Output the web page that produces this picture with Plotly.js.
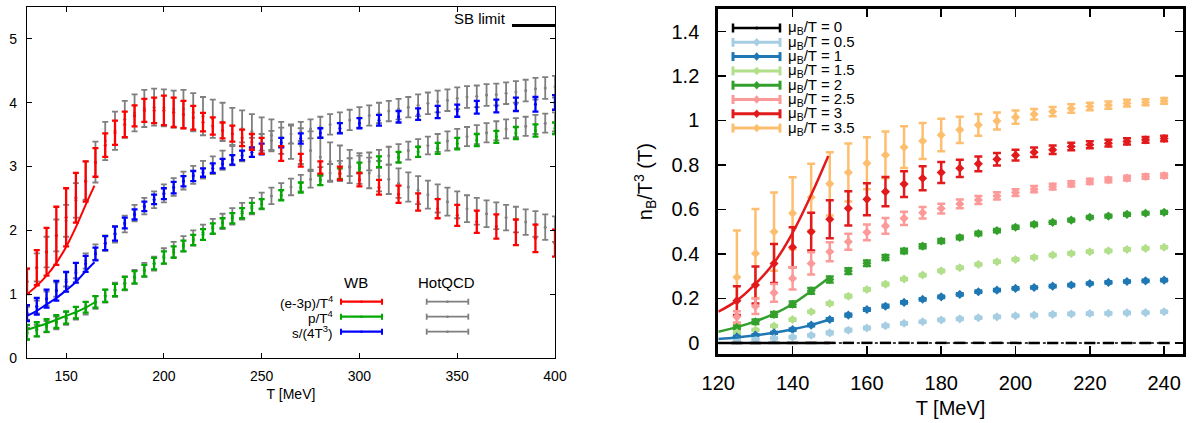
<!DOCTYPE html>
<html><head><meta charset="utf-8">
<script src="https://cdn.plot.ly/plotly-3.0.1.min.js"></script>
<style>html,body{margin:0;padding:0;background:#fff;}#chart{width:1193px;height:423px;}</style>
</head><body><div id="chart"></div>
<script>
// ---------------- Left panel data ----------------
const T_WB = [130,135,140,145,150,155,160,165,170,175,180,185,190,195,200,205,210,215,220,225,230,235,240,245,250,260,270,280,290,300,310,320,330,340,350,360,370,380,390,400];
const wbE3pLo = [1.0,1.14,1.29,1.46,1.75,2.12,2.45,2.84,3.15,3.34,3.46,3.63,3.70,3.68,3.65,3.62,3.6,3.58,3.55,3.5,3.44,3.39,3.32,3.26,3.2,3.09,3.0,2.89,2.79,2.69,2.56,2.43,2.31,2.19,2.07,1.96,1.87,1.77,1.66,1.59];
const wbE3pHi = [1.4,1.69,2.04,2.37,2.66,2.9,3.08,3.29,3.52,3.72,3.86,3.96,4.06,4.08,4.11,4.08,4.03,3.95,3.84,3.77,3.69,3.64,3.58,3.51,3.45,3.32,3.2,3.08,3.0,2.9,2.79,2.7,2.58,2.49,2.4,2.31,2.25,2.17,2.09,2.01];
const wbSLo = [0.58,0.68,0.79,0.9,1.04,1.18,1.35,1.53,1.69,1.84,2.03,2.17,2.3,2.41,2.49,2.58,2.69,2.77,2.84,2.9,2.97,3.03,3.1,3.15,3.19,3.3,3.36,3.45,3.52,3.6,3.64,3.69,3.73,3.76,3.78,3.83,3.85,3.87,3.86,3.89];
const wbSHi = [0.83,0.94,1.07,1.21,1.35,1.49,1.6,1.73,1.91,2.06,2.2,2.33,2.45,2.56,2.66,2.76,2.85,2.93,2.97,3.05,3.12,3.18,3.25,3.3,3.36,3.45,3.52,3.6,3.68,3.76,3.81,3.87,3.91,3.95,3.97,4.03,4.05,4.08,4.09,4.12];
const wbPLo = [0.29,0.34,0.41,0.47,0.54,0.62,0.71,0.79,0.88,0.97,1.07,1.17,1.28,1.39,1.48,1.57,1.67,1.77,1.85,1.95,2.04,2.11,2.19,2.27,2.34,2.47,2.59,2.71,2.8,2.9,2.99,3.06,3.15,3.2,3.27,3.32,3.37,3.43,3.47,3.51];
const wbPHi = [0.52,0.56,0.61,0.67,0.73,0.8,0.88,0.97,1.07,1.16,1.27,1.36,1.46,1.57,1.67,1.75,1.84,1.93,2.02,2.11,2.19,2.27,2.35,2.43,2.49,2.63,2.75,2.87,2.97,3.06,3.16,3.23,3.31,3.37,3.45,3.51,3.56,3.62,3.66,3.69];

const T_HQ = [130,135,140,145,150,155,160,165,170,175,180,185,190,195,200,205,210,215,220,225,230,235,240,245,250,255,260,265,270,275,280,285,290,295,300,305,310,315,320,325,330,335,340,345,350,355,360,365,370,375,380,385,390,395,400];
const hqE3p = [1.2,1.42,1.66,1.92,2.15, 2.47,2.78,3.07,3.4,3.56, 3.74,3.84,3.91,3.93,3.92, 3.9,3.9,3.85,3.79,3.75, 3.7,3.63,3.6,3.55,3.51, 3.49,3.45,3.38,3.32,3.25, 3.15,3.08,3.05,3.0,2.97, 2.9,2.85,2.8,2.74,2.68, 2.63,2.56,2.5,2.45,2.4, 2.34,2.3,2.26,2.23,2.2, 2.17,2.13,2.1,2.05,2.02];
const hqE3pErr = [0.2,0.22,0.24,0.25,0.25, 0.27,0.3,0.32,0.3,0.3, 0.29,0.29,0.29,0.29,0.29, 0.29,0.3,0.3,0.3,0.3, 0.3,0.29,0.28,0.27,0.26, 0.25,0.25,0.26,0.28,0.3, 0.3,0.3,0.28,0.26,0.24, 0.24,0.24,0.23,0.23,0.23, 0.22,0.22,0.22,0.22,0.21, 0.21,0.21,0.21,0.21,0.2, 0.2,0.2,0.2,0.2,0.2];
const hqS = [0.7,0.8,0.93,1.07,1.23, 1.37,1.52,1.66,1.8,1.94, 2.1,2.27,2.38,2.48,2.58, 2.68,2.78,2.87,2.95,3.02, 3.1,3.17,3.23,3.3,3.36, 3.41,3.46,3.51,3.55,3.59, 3.62,3.66,3.69,3.73,3.77, 3.8,3.84,3.87,3.9,3.93, 3.96,3.99,4.02,4.04,4.07, 4.09,4.1,4.12,4.13,4.15, 4.17,4.19,4.22,4.23,4.25];
const hqSErr = [0.1,0.1,0.11,0.11,0.11, 0.12,0.12,0.12,0.12,0.13, 0.13,0.13,0.13,0.13,0.14, 0.14,0.14,0.14,0.14,0.14, 0.15,0.15,0.15,0.15,0.15, 0.15,0.15,0.15,0.15,0.15, 0.16,0.16,0.16,0.16,0.16, 0.16,0.16,0.16,0.16,0.16, 0.17,0.17,0.17,0.17,0.17, 0.17,0.17,0.17,0.17,0.17, 0.17,0.17,0.17,0.17,0.17];
const hqP = [0.38,0.43,0.49,0.55,0.62, 0.7,0.78,0.87,0.97,1.07, 1.17,1.27,1.38,1.48,1.6, 1.7,1.79,1.88,1.97,2.06, 2.14,2.22,2.3,2.38,2.46, 2.54,2.61,2.68,2.74,2.8, 2.85,2.9,2.95,2.99,3.03, 3.08,3.12,3.17,3.21,3.25, 3.29,3.33,3.37,3.4,3.44, 3.47,3.5,3.53,3.56,3.59, 3.61,3.63,3.66,3.68,3.7];
const hqPErr = [0.09,0.09,0.09,0.1,0.1, 0.1,0.1,0.1,0.1,0.11, 0.11,0.11,0.11,0.11,0.12, 0.12,0.12,0.12,0.12,0.12, 0.12,0.13,0.13,0.13,0.13, 0.13,0.13,0.13,0.13,0.13, 0.14,0.14,0.14,0.14,0.14, 0.14,0.14,0.14,0.14,0.14, 0.14,0.14,0.14,0.15,0.15, 0.15,0.15,0.15,0.15,0.15, 0.15,0.15,0.15,0.15,0.15];

const T_HRG = [130,135,140,145,150,155,160,164.5];
const hrgE3p = [1.0,1.13,1.29,1.49,1.74,2.05,2.4,2.7];
const hrgS = [0.66,0.74,0.84,0.94,1.06,1.19,1.36,1.5];
const hrgP = [0.44,0.49,0.54,0.6,0.66,0.72,0.79,0.87];
const T_SB = [378,400];
const sbLimit = [5.209,5.209];

const leftLabels = ['(e-3p)/T<sup>4</sup>','p/T<sup>4</sup>','s/(4T<sup>3</sup>)'];

// ---------------- Right panel data ----------------
const T_R = [125,130,135,140,145,150,155,160,165,170,175,180,185,190,195,200,205,210,215,220,225,230,235,240];
const mu0 = [0,0,0,0,0,0,0,0,0,0,0,0,0,0,0,0,0,0,0,0,0,0,0,0];
const mu05 = [0.012,0.016,0.02,0.026,0.034,0.045,0.057,0.067,0.077,0.088,0.095,0.103,0.108,0.113,0.117,0.122,0.125,0.128,0.13,0.132,0.133,0.135,0.136,0.14];
const mu1 = [0.027,0.035,0.045,0.06,0.08,0.105,0.125,0.15,0.165,0.182,0.196,0.207,0.218,0.23,0.237,0.245,0.249,0.255,0.26,0.267,0.272,0.276,0.279,0.282];
const mu15 = [0.045,0.058,0.076,0.105,0.14,0.177,0.21,0.24,0.264,0.287,0.305,0.324,0.338,0.353,0.365,0.375,0.384,0.395,0.402,0.41,0.414,0.42,0.425,0.43];
const mu2 = [0.069,0.095,0.128,0.174,0.234,0.285,0.323,0.358,0.384,0.413,0.435,0.458,0.474,0.492,0.505,0.52,0.533,0.542,0.552,0.565,0.57,0.578,0.583,0.587];
const mu2Err = [0.008,0.01,0.011,0.012,0.013,0.014,0.013,0.012,0.011,0.01,0.009,0.009,0.008,0.008,0.007,0.007,0.007,0.006,0.006,0.006,0.006,0.006,0.006,0.006];
const mu25 = [0.117,0.165,0.225,0.29,0.357,0.41,0.455,0.497,0.526,0.56,0.585,0.604,0.625,0.643,0.661,0.676,0.691,0.703,0.715,0.726,0.733,0.741,0.748,0.752];
const mu25Err = [0.025,0.035,0.04,0.05,0.05,0.043,0.036,0.035,0.035,0.03,0.026,0.022,0.02,0.018,0.016,0.015,0.014,0.013,0.012,0.012,0.011,0.011,0.01,0.01];
const mu3 = [0.19,0.26,0.357,0.43,0.5,0.556,0.605,0.646,0.68,0.714,0.74,0.766,0.785,0.805,0.826,0.844,0.857,0.868,0.883,0.891,0.898,0.906,0.913,0.919];
const mu3Err = [0.065,0.083,0.088,0.09,0.085,0.085,0.077,0.072,0.066,0.058,0.054,0.047,0.039,0.033,0.028,0.024,0.021,0.019,0.017,0.016,0.015,0.014,0.013,0.012];
const mu35 = [0.295,0.402,0.5,0.583,0.655,0.715,0.766,0.808,0.845,0.88,0.908,0.935,0.958,0.98,0.998,1.015,1.028,1.04,1.054,1.063,1.069,1.078,1.082,1.088];
const mu35Err = [0.21,0.2,0.176,0.162,0.15,0.142,0.13,0.117,0.105,0.094,0.081,0.073,0.059,0.049,0.038,0.03,0.024,0.021,0.019,0.017,0.016,0.015,0.014,0.013];
const smallErr = [0.004,0.004,0.004,0.005,0.005,0.006,0.006,0.006,0.006,0.005,0.005,0.005,0.005,0.005,0.005,0.005,0.005,0.005,0.005,0.005,0.005,0.005,0.005,0.005];

const T_HRG_R = [120,125,130,135,140,145,150];
const hrgMu0 = [0,0,0,0,0,0,0];
const hrgMu1 = [0.017,0.024,0.034,0.046,0.061,0.08,0.105];
const hrgMu2 = [0.05,0.071,0.097,0.13,0.175,0.233,0.295];
const T_HRG_R3 = [120,125,130,135,140,145,149.6];
const hrgMu3 = [0.14,0.19,0.265,0.36,0.495,0.665,0.84];

const muLabels = ['0','0.5','1','1.5','2','2.5','3','3.5'];
const muColors = ['#000000','#a6cee3','#1f78b4','#b2df8a','#33a02c','#fb9a99','#e31a1c','#fdbf6f'];

// ---------------- build ----------------
const W = 1193, H = 423;
const PX = x => x / W, PY = y => 1 - y / H;
const FONT = 'Liberation Sans, Arial, Helvetica, sans-serif';
const mid = (lo, hi) => lo.map((v, i) => (v + hi[i]) / 2);
const half = (lo, hi) => lo.map((v, i) => (hi[i] - v) / 2);

const traces = [];
function bars(x, y, err, color, thick, capw, msize, xa, ya, symbol) {
  traces.push({x, y, xaxis: xa, yaxis: ya, type: 'scatter', mode: 'markers', showlegend: false, hoverinfo: 'skip',
    marker: {size: msize, color, symbol: symbol || 'circle', line: {width: 0}},
    error_y: {type: 'data', array: err, visible: true, color, thickness: thick, width: capw}});
}
function curve(x, y, color, width, xa, ya, dash) {
  traces.push({x, y, xaxis: xa, yaxis: ya, type: 'scatter', mode: 'lines', showlegend: false, hoverinfo: 'skip',
    line: {color, width, shape: 'spline', dash: dash || 'solid'}});
}

// HotQCD (gray)
const GRAY = '#7f7f7f';
bars(T_HQ, hqE3p, hqE3pErr, GRAY, 1.8, 3, 3, 'x', 'y');
bars(T_HQ, hqP, hqPErr, GRAY, 1.8, 3, 3, 'x', 'y');
bars(T_HQ, hqS, hqSErr, GRAY, 1.8, 3, 3, 'x', 'y');
// WB
bars(T_WB, mid(wbPLo, wbPHi), half(wbPLo, wbPHi), '#00a800', 2.3, 3, 3, 'x', 'y');
bars(T_WB, mid(wbSLo, wbSHi), half(wbSLo, wbSHi), '#0000ff', 2.3, 3, 3, 'x', 'y');
bars(T_WB, mid(wbE3pLo, wbE3pHi), half(wbE3pLo, wbE3pHi), '#ff0000', 2.3, 3, 3, 'x', 'y');
// HRG
curve(T_HRG, hrgE3p, '#ff0000', 2, 'x', 'y');
curve(T_HRG, hrgS, '#0000ff', 2, 'x', 'y');
curve(T_HRG, hrgP, '#00a800', 2, 'x', 'y');
// SB limit
traces.push({x: T_SB, y: sbLimit, xaxis: 'x', yaxis: 'y', type: 'scatter', mode: 'lines', showlegend: false, hoverinfo: 'skip', line: {color: '#000', width: 3}});

// Right panel
const muY = [mu0, mu05, mu1, mu15, mu2, mu25, mu3, mu35];
const muE = [mu0, smallErr, smallErr, smallErr, mu2Err, mu25Err, mu3Err, mu35Err];
for (let k = 7; k >= 1; k--) {
  bars(T_R, muY[k], muE[k], muColors[k], 2.5, 4, 7, 'x2', 'y2', 'diamond');
}
// mu=0: dotted line + dash markers
traces.push({x: T_R, y: mu0, xaxis: 'x2', yaxis: 'y2', type: 'scatter', mode: 'lines+markers', showlegend: false, hoverinfo: 'skip',
  line: {color: '#000', width: 1.5, dash: 'dot'}, marker: {symbol: 'line-ew', size: 8, line: {color: '#000', width: 2.5}}});
curve(T_HRG_R, hrgMu0, '#000000', 2.5, 'x2', 'y2');
curve(T_HRG_R, hrgMu1, muColors[2], 2.5, 'x2', 'y2');
curve(T_HRG_R, hrgMu2, muColors[4], 2.5, 'x2', 'y2');
curve(T_HRG_R3, hrgMu3, muColors[6], 2.5, 'x2', 'y2');

// ---------------- legends (shapes + annotations) ----------------
const shapes = [], annotations = [];
function hline(x0, x1, y, color, w) {
  shapes.push({type: 'line', xref: 'paper', yref: 'paper', x0: PX(x0), x1: PX(x1), y0: PY(y), y1: PY(y), line: {color, width: w}});
}
function vline(x, y0, y1, color, w) {
  shapes.push({type: 'line', xref: 'paper', yref: 'paper', x0: PX(x), x1: PX(x), y0: PY(y0), y1: PY(y1), line: {color, width: w}});
}
function dot(x, y, r, color) {
  shapes.push({type: 'circle', xref: 'paper', yref: 'paper', x0: PX(x - r), x1: PX(x + r), y0: PY(y + r), y1: PY(y - r), fillcolor: color, line: {width: 0}});
}
function diamond(x, y, w, h, color) {
  const p = `M${PX(x)},${PY(y - h)} L${PX(x + w)},${PY(y)} L${PX(x)},${PY(y + h)} L${PX(x - w)},${PY(y)} Z`;
  shapes.push({type: 'path', xref: 'paper', yref: 'paper', path: p, fillcolor: color, line: {color, width: 0.5}});
}
function text(x, y, t, size, anchor) {
  annotations.push({xref: 'paper', yref: 'paper', x: PX(x), y: PY(y), text: t, showarrow: false, xanchor: anchor, yanchor: 'middle',
    font: {family: FONT, size, color: '#000'}});
}

// Left legend
const legY = [301.7, 316.7, 331.7];
const wbCols = ['#ff0000', '#00a800', '#0000ff'];
text(356, 282, 'WB', 15, 'center');
text(446, 282, 'HotQCD', 15, 'center');
for (let i = 0; i < 3; i++) {
  const y = legY[i];
  text(335, y, leftLabels[i], 13.5, 'right');
  hline(341, 382, y, wbCols[i], 2.3); vline(341, y - 3, y + 3, wbCols[i], 2); vline(382, y - 3, y + 3, wbCols[i], 2); dot(361.5, y, 1.3, wbCols[i]);
  hline(426.7, 468.3, y, GRAY, 1.8); vline(426.7, y - 3, y + 3, GRAY, 1.8); vline(468.3, y - 3, y + 3, GRAY, 1.8); dot(447.5, y, 1.3, GRAY);
}
text(508, 19, 'SB limit', 15, 'right');

// Right legend
for (let k = 0; k < 8; k++) {
  const y = 28 + k * 14.3, c = muColors[k];
  const w = k === 0 ? 2.5 : 3;
  hline(733, 780, y, c, w); vline(733, y - 4.5, y + 4.5, c, w); vline(780, y - 4.5, y + 4.5, c, w);
  if (k === 0) dot(756.7, y, 1.6, c); else diamond(756.7, y, 3.5, 4, c);
  text(786, y, '\u03bc<sub>B</sub>/T = ' + muLabels[k], 15, 'left');
}

const layout = {
  width: W, height: H, margin: {l: 0, r: 0, t: 0, b: 0}, paper_bgcolor: '#fff', plot_bgcolor: '#fff',
  showlegend: false, font: {family: FONT, color: '#000'},
  xaxis: {domain: [PX(27), PX(555)], range: [130, 400], tickvals: [150, 200, 250, 300, 350, 400],
    ticks: 'inside', ticklen: 5, tickwidth: 1, tickcolor: '#000', showline: true, linecolor: '#000', linewidth: 1.2, mirror: 'allticks',
    showgrid: false, zeroline: false, tickfont: {size: 14, family: FONT}, ticklabelstandoff: 5,
    title: {text: 'T [MeV]', font: {size: 14, family: FONT}, standoff: 6}, automargin: false},
  yaxis: {domain: [PY(358), PY(7)], range: [0, 5.5], tickvals: [0, 1, 2, 3, 4, 5],
    ticks: 'inside', ticklen: 5, tickwidth: 1, tickcolor: '#000', showline: true, linecolor: '#000', linewidth: 1.2, mirror: 'allticks',
    showgrid: false, zeroline: false, tickfont: {size: 14, family: FONT}, ticklabelstandoff: 6, automargin: false},
  xaxis2: {anchor: 'y2', domain: [PX(718.3), PX(1182.7)], range: [120, 245], tickvals: [120, 140, 160, 180, 200, 220, 240],
    ticks: 'inside', ticklen: 8, tickwidth: 1.5, tickcolor: '#000', showline: true, linecolor: '#000', linewidth: 3, mirror: 'allticks',
    showgrid: false, zeroline: false, tickfont: {size: 20, family: FONT}, ticklabelstandoff: 9,
    title: {text: 'T [MeV]', font: {size: 20, family: FONT}, standoff: 8}, automargin: false},
  yaxis2: {anchor: 'x2', domain: [PY(354), PY(9.3)], range: [-0.05, 1.5], tickvals: [0, 0.2, 0.4, 0.6, 0.8, 1, 1.2, 1.4],
    ticktext: ['0', '0.2', '0.4', '0.6', '0.8', '1', '1.2', '1.4'],
    ticks: 'inside', ticklen: 8, tickwidth: 1.5, tickcolor: '#000', showline: true, linecolor: '#000', linewidth: 3, mirror: 'allticks',
    showgrid: false, zeroline: false, tickfont: {size: 20, family: FONT}, ticklabelstandoff: 12,
    title: {text: 'n<sub>B</sub>/T<sup>3</sup> (T)', font: {size: 20, family: FONT}, standoff: 14}, automargin: false},
  shapes, annotations
};

Plotly.newPlot('chart', traces, layout, {staticPlot: true, displayModeBar: false});
</script></body></html>
